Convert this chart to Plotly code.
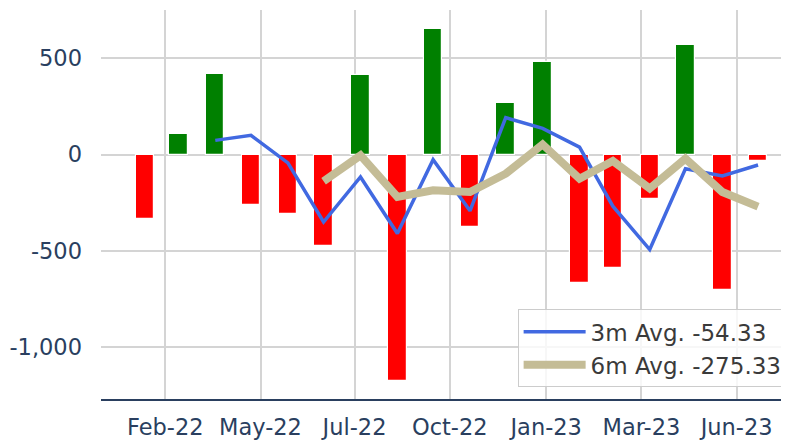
import plotly.graph_objects as go

# ---- data ----
months = ["2022-01-31", "2022-02-28", "2022-03-31", "2022-04-30", "2022-05-31", "2022-06-30",
          "2022-07-31", "2022-08-31", "2022-09-30", "2022-10-31", "2022-11-30", "2022-12-31",
          "2023-01-31", "2023-02-28", "2023-03-31", "2023-04-30", "2023-05-31", "2023-06-30"]
values = [-332, 109, 420, -259, -306, -476, 411, -1176, 650, -375, 270, 482,
          -668, -588, -233, 571, -702, -32]

avg3_months = months[2:]
avg3 = [74, 100, -43, -350, -116, -410, -26, -292, 192, 136, 39, -268, -493, -73, -111, -54]

avg6_months = months[5:]
avg6 = [-138, -4, -220, -185, -194, -99, 53, -125, -33, -176, -21, -194, -270]

avg3_label = "3m Avg. -54.33"
avg6_label = "6m Avg. -275.33"

x_tick_dates = ["2022-02-17", "2022-05-08", "2022-07-26", "2022-10-14",
                "2023-01-03", "2023-03-24", "2023-06-12"]
x_tick_labels = ["Feb-22", "May-22", "Jul-22", "Oct-22", "Jan-23", "Mar-23", "Jun-23"]

y_tick_vals = [-1000, -500, 0, 500]
y_tick_labels = ["-1,000", "-500", "0", "500"]

bar_colors = ["green" if v >= 0 else "red" for v in values]

TICK_COLOR = "#2a3f5f"
GRID = "#d4d4d4"

fig = go.Figure()
fig.add_trace(go.Bar(
    x=months, y=values,
    marker=dict(color=bar_colors, line=dict(color="white", width=1.2)),
    width=15.5 * 86400000,
    showlegend=False,
))
fig.add_trace(go.Scatter(
    x=avg3_months, y=avg3, mode="lines", name=avg3_label,
    line=dict(color="#4169E1", width=3.5),
))
fig.add_trace(go.Scatter(
    x=avg6_months, y=avg6, mode="lines", name=avg6_label,
    line=dict(color="rgb(196,188,150)", width=8),
))

fig.add_annotation(
    text="▼", xref="paper", yref="paper", x=0.975, y=1.0, yanchor="bottom",
    showarrow=False, font=dict(size=14, color="rgba(255,60,60,0.5)"),
)

# page body has an 8px default margin, so the figure is sized/offset to compensate
fig.update_layout(
    width=781, height=435,
    margin=dict(l=93, r=0, t=2, b=44, autoexpand=False),
    paper_bgcolor="white", plot_bgcolor="white",
    font=dict(family="DejaVu Sans", size=22.5, color=TICK_COLOR),
    legend=dict(
        x=0.998, y=0.03, xanchor="right", yanchor="bottom",
        bgcolor="rgba(255,255,255,0.8)", bordercolor="#cccccc", borderwidth=1,
        font=dict(size=23, color="#3a3a3a"),
        itemwidth=62,
    ),
    bargap=0,
)
fig.update_xaxes(
    type="date", range=["2021-12-25", "2023-07-26"],
    tickvals=x_tick_dates, ticktext=x_tick_labels,
    showgrid=True, gridcolor=GRID, gridwidth=1.5,
    showline=True, linecolor="#2a3f5f", linewidth=2,
    ticks="", ticklabelstandoff=7, automargin=False,
    tickfont=dict(size=22.5, color=TICK_COLOR),
)
fig.update_yaxes(
    range=[-1269, 751],
    tickvals=y_tick_vals, ticktext=y_tick_labels,
    showgrid=True, gridcolor=GRID, gridwidth=1.5,
    zeroline=False, showline=False, ticks="",
    ticklabelstandoff=18, automargin=False,
    tickfont=dict(size=22.5, color=TICK_COLOR),
)

fig.write_html("out.html")
